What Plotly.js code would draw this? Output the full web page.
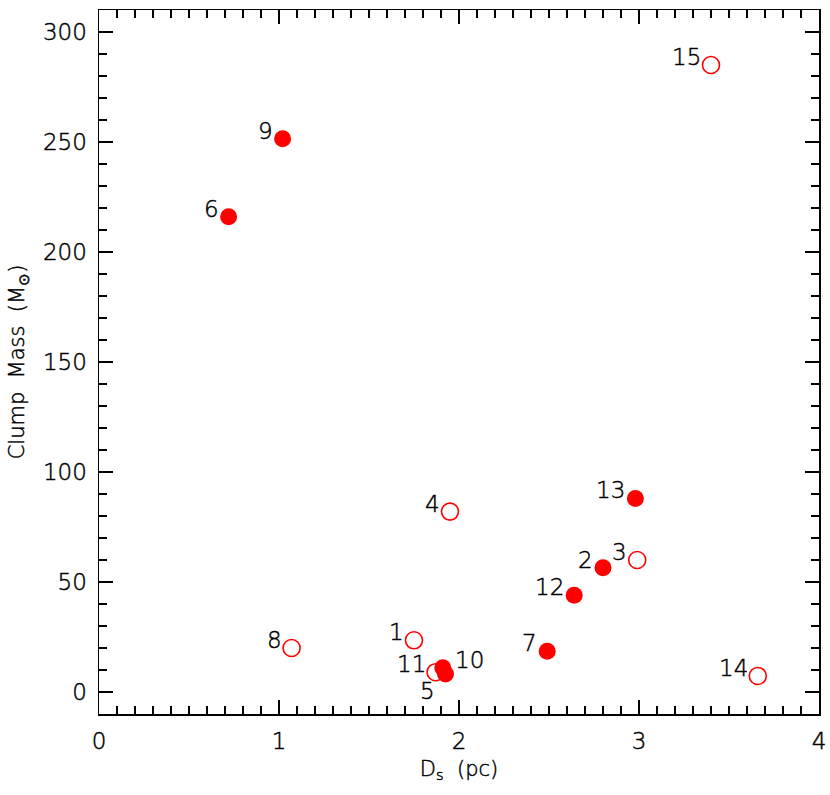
<!DOCTYPE html>
<html>
<head>
<meta charset="utf-8">
<script src="https://cdn.plot.ly/plotly-3.0.1.min.js"></script>
<style>
  html, body { margin: 0; padding: 0; background: #fff; }
  #chart { width: 830px; height: 795px; }
  /* extra-light glyphs come out grey; a hairline stroke darkens them */
  #chart svg text { stroke: #000; stroke-width: 0.45px; }
</style>
</head>
<body>
<div id="chart"></div>
<script>
  // clump id, projected distance (pc), clump mass (Msun), filled marker?
  const clumpIds = ["1", "2", "3", "4", "5", "6", "7", "8", "9", "10", "11", "12", "13", "14", "15"];
  const distPc = [1.75, 2.80, 2.99, 1.95, 1.925, 0.72, 2.49, 1.07, 1.02, 1.91, 1.87, 2.64, 2.98, 3.66, 3.40];
  const massSun = [23.5, 56.5, 60, 82, 8.2, 216, 18.5, 20, 251.5, 11, 9, 44, 88, 7.3, 285];
  const filled = [false, true, false, false, true, true, true, false, true, true, false, true, true, false, false];

  const xTickVals = [0, 1, 2, 3, 4];
  const yTickVals = [0, 50, 100, 150, 200, 250, 300];

  const FONT = "DejaVu Sans";
  const SP = "\u00a0\u00a0";

  function pick(arr, want) {
    return arr.filter((_, i) => filled[i] === want);
  }

  const traces = [
    {
      type: "scatter",
      mode: "markers",
      x: pick(distPc, false),
      y: pick(massSun, false),
      marker: { symbol: "circle-open", size: 17, color: "#ff0000", line: { width: 1.6, color: "#ff0000" } },
      hoverinfo: "skip"
    },
    {
      type: "scatter",
      mode: "markers",
      x: pick(distPc, true),
      y: pick(massSun, true),
      marker: { symbol: "circle", size: 17, color: "#ff0000", line: { width: 0 } },
      hoverinfo: "skip"
    }
  ];

  // labels sit up-left of each point; 10 and 5 are moved to avoid the pile-up
  const annotations = clumpIds.map((id, i) => {
    let xanchor = "right", xshift = -8, yshift = 8;
    if (id === "10") { xanchor = "left"; xshift = 10; yshift = 8; }
    if (id === "5") { xanchor = "right"; xshift = -9; yshift = -17; }
    return {
      x: distPc[i],
      y: massSun[i],
      xref: "x",
      yref: "y",
      text: id,
      showarrow: false,
      xanchor,
      yanchor: "middle",
      xshift,
      yshift,
      font: { family: FONT, size: 23, weight: 200, color: "#000" }
    };
  });

  const axisCommon = {
    showgrid: false,
    zeroline: false,
    showline: true,
    linecolor: "#000",
    linewidth: 1.5,
    mirror: "allticks",
    ticks: "inside",
    ticklen: 14,
    tickwidth: 1.3,
    tickcolor: "#000",
    tickfont: { family: FONT, size: 23, weight: 200, color: "#000" }
  };

  const layout = {
    width: 830,
    height: 795,
    margin: { l: 99, r: 11, t: 10, b: 81 },
    paper_bgcolor: "#fff",
    plot_bgcolor: "#fff",
    showlegend: false,
    xaxis: {
      ...axisCommon,
      range: [0, 4],
      tickmode: "array",
      tickvals: xTickVals,
      ticklabelstandoff: 6,
      minor: { dtick: 0.1, tick0: 0, ticks: "inside", ticklen: 8, tickwidth: 1.2, tickcolor: "#000" },
      title: { text: "D<sub>s</sub>" + SP + "(pc)", font: { family: FONT, size: 21, weight: 200, color: "#000" }, standoff: 8 }
    },
    yaxis: {
      ...axisCommon,
      range: [-10, 310],
      tickmode: "array",
      tickvals: yTickVals,
      ticklabelstandoff: 6,
      minor: { dtick: 10, tick0: 0, ticks: "inside", ticklen: 8, tickwidth: 1.2, tickcolor: "#000" },
      title: { text: "Clump" + SP + "Mass" + SP + "(M<sub>⊙</sub>)", font: { family: FONT, size: 21, weight: 200, color: "#000" }, standoff: 12 }
    },
    annotations
  };

  Plotly.newPlot("chart", traces, layout, { staticPlot: true, displayModeBar: false });
</script>
</body>
</html>
